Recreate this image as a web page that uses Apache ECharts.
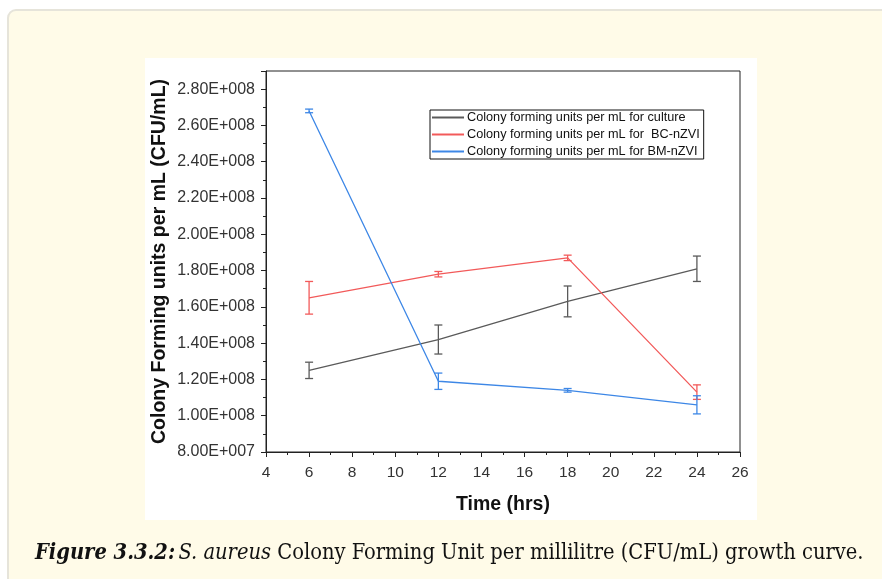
<!DOCTYPE html>
<html><head><meta charset="utf-8">
<script src="https://cdn.jsdelivr.net/npm/echarts@6/dist/echarts.min.js"></script>
<style>html,body{margin:0;padding:0;background:#fff}#c{width:882px;height:579px}</style>
</head><body><div id="c"></div>
<script>
const times = [6, 12, 18, 24];
const cultureMean = [1.25e8, 1.42e8, 1.63e8, 1.81e8];
const cultureErr  = [0.045e8, 0.08e8, 0.085e8, 0.07e8];
const bcMean = [1.65e8, 1.78e8, 1.87e8, 1.13e8];
const bcErr  = [0.09e8, 0.015e8, 0.015e8, 0.04e8];
const bmMean = [2.68e8, 1.19e8, 1.14e8, 1.06e8];
const bmErr  = [0.01e8, 0.045e8, 0.01e8, 0.05e8];
const seriesNames = ['Colony forming units per mL for culture', 'Colony forming units per mL for  BC-nZVI', 'Colony forming units per mL for BM-nZVI'];
const colors = ['#5a5a5a', '#f25a5a', '#3d87e6'];

function sci(v){
  if (v === 0) return '0';
  const e = Math.floor(Math.log10(v) + 1e-9);
  const m = v / Math.pow(10, e);
  return m.toFixed(2) + 'E+' + String(e).padStart(3, '0');
}

const means = [cultureMean, bcMean, bmMean];
const errs = [cultureErr, bcErr, bmErr];
const series = [];
means.forEach((m, i) => {
  series.push({
    name: seriesNames[i], type: 'line', data: times.map((t, j) => [t, m[j]]),
    symbol: 'none', lineStyle: {color: colors[i], width: 1.3}, itemStyle: {color: colors[i]}, z: 3
  });
  series.push({
    type: 'custom', name: seriesNames[i] + ' err',
    data: times.map((t, j) => [t, m[j] - errs[i][j], m[j] + errs[i][j]]),
    renderItem: function(params, api){
      const lo = api.coord([api.value(0), api.value(1)]);
      const hi = api.coord([api.value(0), api.value(2)]);
      const w = 4;
      const st = {stroke: colors[i], lineWidth: 1.3, fill: 'none'};
      return {type: 'group', children: [
        {type: 'line', shape: {x1: lo[0], y1: lo[1], x2: hi[0], y2: hi[1]}, style: st},
        {type: 'line', shape: {x1: lo[0]-w, y1: lo[1], x2: lo[0]+w, y2: lo[1]}, style: st},
        {type: 'line', shape: {x1: hi[0]-w, y1: hi[1], x2: hi[0]+w, y2: hi[1]}, style: st}
      ]};
    },
    z: 4, silent: true
  });
});

const chart = echarts.init(document.getElementById('c'), null, {renderer: 'canvas'});
chart.setOption({
  backgroundColor: 'transparent',
  animation: false,
  graphic: [
    {type: 'rect', shape: {x: 8, y: 10, width: 900, height: 600, r: 8}, style: {fill: '#fffbe8', stroke: '#e6e4da', lineWidth: 2}, z: -10},
    {type: 'rect', shape: {x: 145, y: 58, width: 612, height: 462}, style: {fill: '#ffffff'}, z: -9},
    {type: 'text', left: 35, top: 542, z: 10, style: {
      rich: {
        b: {fontFamily: 'DejaVu Serif Condensed, Liberation Serif, serif', fontStyle: 'italic', fontWeight: 'bold', fontSize: 21.7, fill: '#111'},
        i: {fontFamily: 'DejaVu Serif Condensed, Liberation Serif, serif', fontStyle: 'italic', fontSize: 21.7, fill: '#111'},
        n: {fontFamily: 'DejaVu Serif Condensed, Liberation Serif, serif', fontSize: 21.7, fill: '#111'}
      },
      text: '{b|Figure 3.3.2:} {i|S. aureus}{n| Colony Forming Unit per millilitre (CFU/mL) growth curve.}'
    }}
  ],
  grid: {left: 266, top: 71, right: 142, bottom: 127, show: true, borderColor: '#222', borderWidth: 1, backgroundColor: '#fff'},
  legend: {
    data: seriesNames, orient: 'vertical', left: 430, top: 110, itemGap: 4,
    itemWidth: 32, itemHeight: 2, icon: 'rect',
    borderColor: '#111', borderWidth: 1, padding: [1, 4, 1, 2], backgroundColor: '#fff',
    textStyle: {fontFamily: 'Liberation Sans, Arial, sans-serif', fontSize: 12.7, color: '#111', padding: [0, 0, 0, -2]}
  },
  xAxis: {
    type: 'value', min: 4, max: 26, interval: 2,
    name: 'Time (hrs)', nameLocation: 'middle', nameGap: 43, nameMoveOverlap: false,
    nameTextStyle: {fontFamily: 'Liberation Sans, Arial, sans-serif', fontSize: 19.5, fontWeight: 'bold', color: '#111'},
    axisLine: {lineStyle: {color: '#222'}},
    axisTick: {inside: false, length: 5, lineStyle: {color: '#222'}},
    minorTick: {show: true, splitNumber: 2, length: 3, lineStyle: {color: '#222'}},
    splitLine: {show: false},
    axisLabel: {fontFamily: 'Liberation Sans, Arial, sans-serif', fontSize: 15.5, color: '#333', margin: 13}
  },
  yAxis: {
    type: 'value', min: 8e7, max: 2.9e8, interval: 2e7,
    name: 'Colony Forming units per mL (CFU/mL)', nameLocation: 'middle', nameGap: 96, nameMoveOverlap: false,
    nameTextStyle: {fontFamily: 'Liberation Sans, Arial, sans-serif', fontSize: 19.5, fontWeight: 'bold', color: '#111'},
    axisLine: {show: true, lineStyle: {color: '#222'}},
    axisTick: {inside: false, length: 5, lineStyle: {color: '#222'}},
    minorTick: {show: true, splitNumber: 2, length: 3, lineStyle: {color: '#222'}},
    splitLine: {show: false},
    axisLabel: {fontFamily: 'Liberation Sans, Arial, sans-serif', fontSize: 16, color: '#333', margin: 11, showMaxLabel: false, formatter: sci}
  },
  series: series
});
</script></body></html>
